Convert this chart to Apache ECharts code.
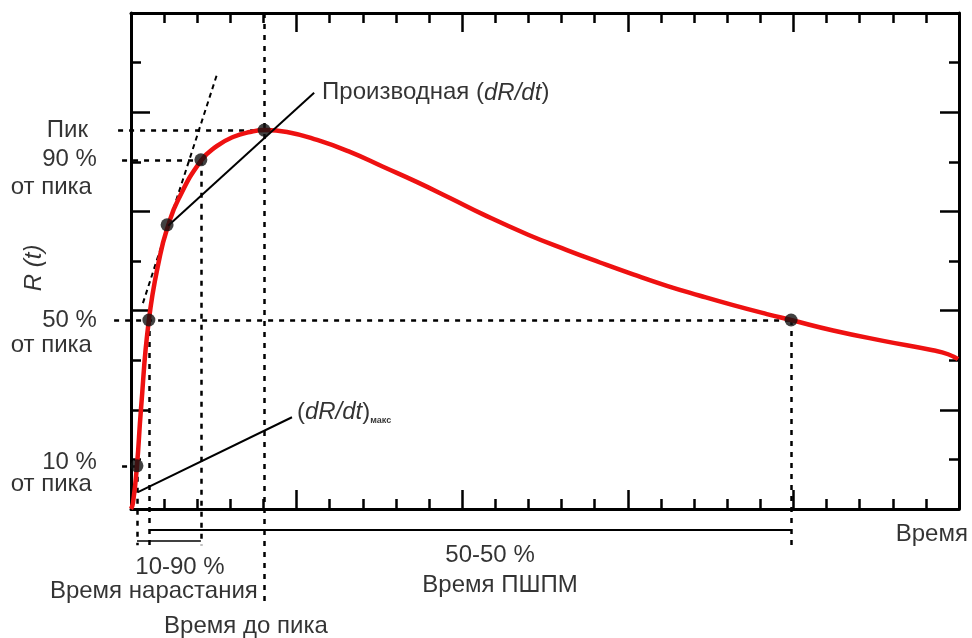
<!DOCTYPE html>
<html>
<head>
<meta charset="utf-8">
<script src="https://cdn.jsdelivr.net/npm/echarts@6/dist/echarts.min.js"></script>
<style>
  html, body { margin: 0; padding: 0; background: #fff; }
  #chart { width: 972px; height: 638px; }
</style>
</head>
<body>
<div id="chart"></div>
<script>
// кривая R(t): время и отклик (условные единицы по сетке)
const curveT = [0, 0.06, 0.18, 0.30, 0.54, 0.88, 1.12, 1.42, 2.11, 2.60, 3.08, 3.59, 4.05, 4.71, 5.62, 6.61, 7.61, 8.64, 9.63, 10.63, 11.99, 13.16, 14.16, 15.16, 16.18, 17.18, 18.18, 19.20, 19.93, 21.20, 22.71, 24.21, 24.67, 24.97];
const curveR = [0, 0.12, 0.87, 2.0, 3.81, 5.12, 5.71, 6.23, 7.02, 7.32, 7.50, 7.60, 7.64, 7.60, 7.44, 7.20, 6.90, 6.59, 6.27, 5.94, 5.53, 5.22, 4.97, 4.73, 4.50, 4.30, 4.11, 3.93, 3.81, 3.60, 3.39, 3.20, 3.12, 3.02];

// характерные точки: 10%, 50%, касание, 90%, пик, 50% на спаде
const pointNames = ["10%", "50%", "касание", "90%", "пик", "50% спад"];
const pointT = [0.18, 0.54, 1.09, 2.11, 4.02, 19.93];
const pointR = [0.87, 3.81, 5.73, 7.04, 7.64, 3.81];

// концы касательных
const tangentMax = [[0.36, 4.15], [2.60, 8.77]];
const derivLine = [[1.12, 5.71], [5.53, 8.39]];
const dRdtPointer = [[0.21, 0.34], [4.86, 1.85]];

const axisT = [0, 25];
const axisR = [0, 10];

const ink = "#000";
const font = "Liberation Sans";

function pt(i){ return [pointT[i], pointR[i]]; }

// пунктирные выноски
const below = -0.73;
const guides = [
	[[-0.39, pointR[4]], pt(4)],
	[[-0.27, pointR[3]], pt(3)],
	[[-0.51, pointR[1]], pt(5)],
	[[-0.27, pointR[0]], pt(0)],
	[pt(0), [pointT[0], below]],
	[pt(1), [pointT[1], below]],
	[pt(3), [pointT[3], below]],
	[[pointT[4], axisR[1]], [pointT[4], -1.94]],
	[pt(5), [pointT[5], below]]
];

// интервалы под осью
const spans = [
	[[pointT[1], -0.42], [pointT[5], -0.42]],
	[[pointT[0], -0.65], [pointT[3], -0.65]]
];

// подписи
const texts = [
	{ t: -1.30, r: 7.64, text: "Пик", align: "right" },
	{ t: -1.03, r: 7.04, text: "90 %", align: "right" },
	{ t: -1.18, r: 6.49, text: "от пика", align: "right" },
	{ t: -1.03, r: 3.81, text: "50 %", align: "right" },
	{ t: -1.18, r: 3.29, text: "от пика", align: "right" },
	{ t: -1.03, r: 0.95, text: "10 %", align: "right" },
	{ t: -1.18, r: 0.50, text: "от пика", align: "right" },
	{ t: 5.77, r: 8.39, text: "{n|Производная (}{i|dR/dt}{n|)}", align: "left" },
	{ t: 5.01, r: 1.94, text: "{n|(}{i|dR/dt}{n|)}{s|макс}", align: "left" },
	{ t: 25.27, r: -0.52, text: "Время", align: "right" },
	{ t: 1.48, r: -1.17, text: "10-90 %", align: "center" },
	{ t: 0.69, r: -1.67, text: "Время нарастания", align: "center" },
	{ t: 3.47, r: -2.36, text: "Время до пика", align: "center" },
	{ t: 10.84, r: -0.93, text: "50-50 %", align: "center" },
	{ t: 11.14, r: -1.53, text: "Время ПШПМ", align: "center" },
	{ t: -2.93, r: 4.86, text: "R (t)", align: "center", rotate: 90, italic: true }
];

const chart = echarts.init(document.getElementById("chart"), null, { renderer: "canvas" });

function axisX(pos){
	return {
		type: "value", position: pos, min: axisT[0], max: axisT[1], interval: 5,
		axisLine: { show: true, onZero: false, lineStyle: { color: ink, width: 3 } },
		axisTick: { show: true, inside: true, length: 19, lineStyle: { color: ink, width: 2.5 } },
		minorTick: { show: true, splitNumber: 5, length: 10, lineStyle: { color: ink, width: 2.5 } },
		axisLabel: { show: false },
		splitLine: { show: false }
	};
}
function axisY(pos){
	return {
		type: "value", position: pos, min: axisR[0], max: axisR[1], interval: 2,
		axisLine: { show: true, onZero: false, lineStyle: { color: ink, width: 3 } },
		axisTick: { show: true, inside: true, length: 19, lineStyle: { color: ink, width: 2.5 } },
		minorTick: { show: true, splitNumber: 2, length: 10, lineStyle: { color: ink, width: 2.5 } },
		axisLabel: { show: false },
		splitLine: { show: false }
	};
}

const lineData = arr => arr.map(c => ({ coords: c }));

const option = {
	animation: false,
	backgroundColor: "#fff",
	grid: { left: 131, top: 13, right: 13, bottom: 129 },
	xAxis: [axisX("bottom"), axisX("top")],
	yAxis: [axisY("left"), axisY("right")],
	series: [
		{
			name: "guides", type: "lines", coordinateSystem: "cartesian2d", clip: false, z: 3,
			lineStyle: { color: ink, width: 2.5, type: [5, 6], opacity: 1 },
			data: lineData(guides)
		},
		{
			name: "tangent", type: "lines", coordinateSystem: "cartesian2d", clip: false, z: 3,
			lineStyle: { color: ink, width: 2, type: [5, 4], opacity: 1 },
			data: lineData([tangentMax])
		},
		{
			name: "R(t)", type: "line", smooth: 0.5, showSymbol: false, z: 4,
			lineStyle: { color: "#ee1111", width: 4.5 },
			data: curveT.map((t, i) => [t, curveR[i]])
		},
		{
			name: "pointers", type: "lines", coordinateSystem: "cartesian2d", clip: false, z: 5,
			lineStyle: { color: ink, width: 2, type: "solid", opacity: 1 },
			data: lineData([derivLine, dRdtPointer, spans[0]])
		},
		{
			name: "span1090", type: "lines", coordinateSystem: "cartesian2d", clip: false, z: 5,
			lineStyle: { color: ink, width: 1.5, opacity: 1 },
			data: lineData([spans[1]])
		},
		{
			name: "points", type: "scatter", symbolSize: 13, z: 6, clip: false,
			itemStyle: { color: "#111" },
			data: pointT.map((t, i) => ({ name: pointNames[i], value: [t, pointR[i]] }))
		},
		{
			name: "texts", type: "scatter", symbolSize: 0, clip: false, z: 7, silent: true,
			data: texts.map(d => ({
				value: [d.t, d.r],
				label: {
					show: true, position: [0, 0], formatter: d.text,
					align: d.align, verticalAlign: "middle", rotate: d.rotate || 0,
					fontStyle: d.italic ? "italic" : "normal",
					fontFamily: font, fontSize: 24, color: ink,
					rich: {
						n: { fontFamily: font, fontSize: 24, color: ink },
						i: { fontFamily: font, fontSize: 24, color: ink, fontStyle: "italic" },
						s: { fontFamily: font, fontSize: 9, fontWeight: "bold", color: ink, verticalAlign: "bottom", padding: [12, 0, 0, 0] }
					}
				}
			}))
		}
	]
};

chart.setOption(option, true);
window.addEventListener("resize", chart.resize);
</script>
</body>
</html>
